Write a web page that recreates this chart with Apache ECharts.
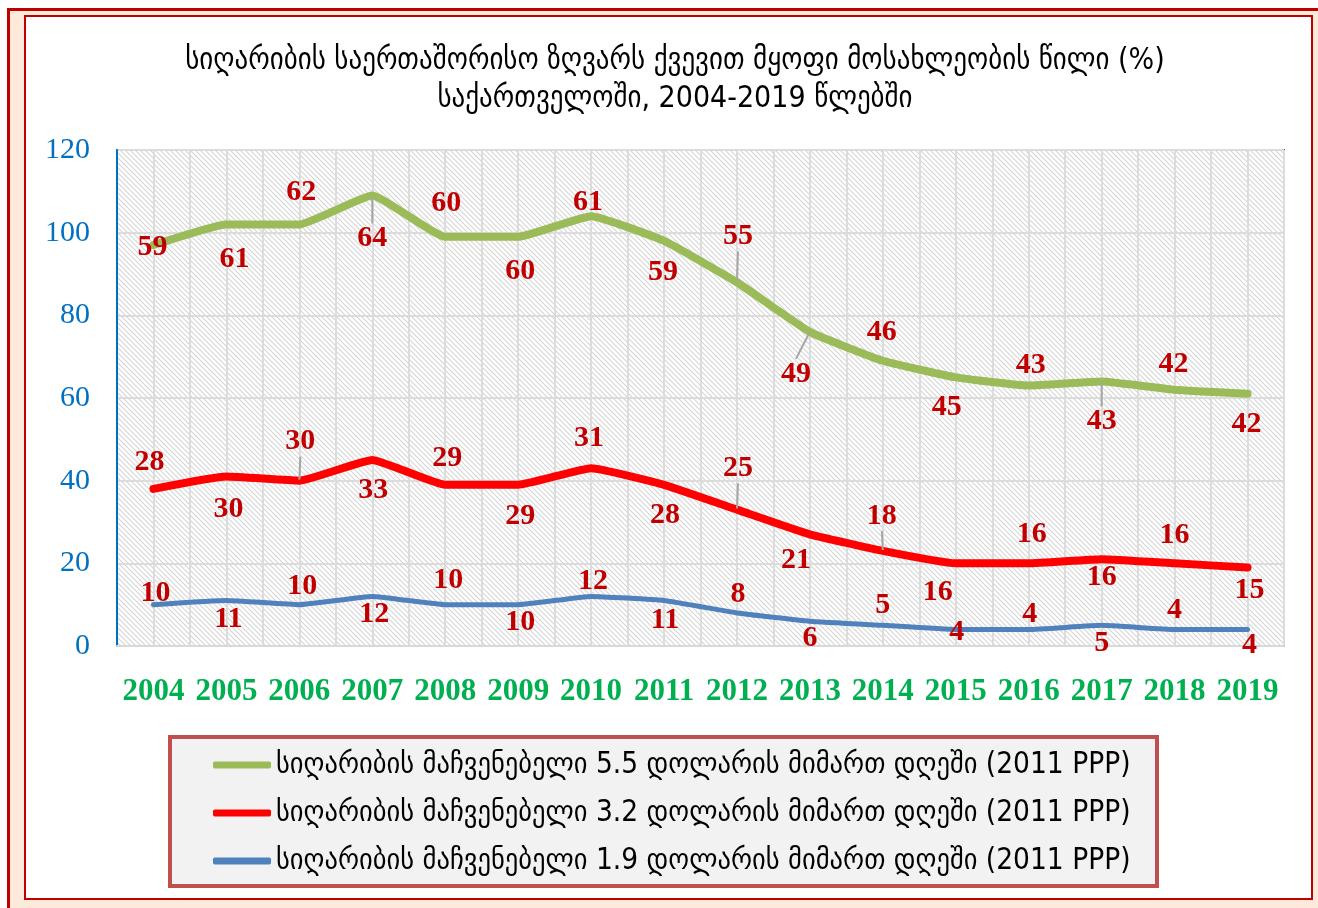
<!DOCTYPE html>
<html>
<head>
<meta charset="utf-8">
<script src="https://cdn.jsdelivr.net/npm/echarts@6/dist/echarts.min.js"></script>
<style>
  html, body { margin: 0; padding: 0; background: #ffffff; width: 1318px; height: 908px; overflow: hidden; }
  #outer { position: absolute; left: 7px; top: 8px; width: 1400px; height: 1000px; border: 3px solid #C00000; background: #FDEADA; box-sizing: border-box; }
  #inner { position: absolute; left: 24px; top: 15px; width: 1289px; height: 885px; border: 2px solid #C00000; background: #ffffff; box-sizing: border-box; }
  #chart { position: absolute; left: 0; top: 0; width: 1318px; height: 908px; }
</style>
</head>
<body>
<div id="outer"></div>
<div id="inner"></div>
<div id="chart"></div>
<script>
// ---- data ----
const years = ['2004','2005','2006','2007','2008','2009','2010','2011','2012','2013','2014','2015','2016','2017','2018','2019'];
const poverty55 = [59, 61, 62, 64, 60, 60, 61, 59, 55, 49, 46, 45, 43, 43, 42, 42];
const poverty32 = [28, 30, 30, 33, 29, 29, 31, 28, 25, 21, 18, 16, 16, 16, 16, 15];
const poverty19 = [10, 11, 10, 12, 10, 10, 12, 11, 8, 6, 5, 4, 4, 5, 4, 4];
const yTicks = { min: 0, max: 120, interval: 20 };
const seriesNames = [
  'სიღარიბის მაჩვენებელი 5.5 დოლარის მიმართ დღეში (2011 PPP)',
  'სიღარიბის მაჩვენებელი 3.2 დოლარის მიმართ დღეში (2011 PPP)',
  'სიღარიბის მაჩვენებელი 1.9 დოლარის მიმართ დღეში (2011 PPP)'
];
const titleText = 'სიღარიბის საერთაშორისო ზღვარს ქვევით მყოფი მოსახლეობის წილი (%)\nსაქართველოში, 2004-2019 წლებში';

// ---- label placement (presentation only) ----
const off55 = [[-1,2],[8,35],[2,-32],[0,43],[1,-34],[2,34],[-3,-14],[-1,31],[1,-46],[-14,42],[-1,-29],[-9,30],[2,-20],[0,40],[-1,-25],[-1,30]];
const off32 = [[-4,-27],[2,33],[1,-39],[1,30],[2,-27],[2,31],[-2,-30],[1,30],[1,-41],[-14,26],[-1,-35],[-18,29],[3,-29],[0,18],[0,-28],[2,23]];
const off19 = [[2,-11],[2,19],[3,-18],[2,18],[3,-24],[2,18],[2,-15],[1,20],[1,-19],[0,17],[0,-20],[1,3],[1,-15],[0,18],[0,-19],[2,16]];
const leaders55 = [3, 8, 9, 13];
const leaders32 = [2, 8, 10];
const leaders19 = [];
// series order: 0 = 1.9, 1 = 3.2, 2 = 5.5
const offsBySeries = [off19, off32, off55];

const geoFont = '"DejaVu Sans Condensed", "DejaVu Sans", sans-serif';
const numFont = '"Liberation Serif", "DejaVu Serif", serif';

// hatch pattern
function hatch() {
  const s = 5;
  const c = document.createElement('canvas');
  c.width = s; c.height = s;
  const g = c.getContext('2d');
  g.fillStyle = '#ffffff'; g.fillRect(0, 0, s, s);
  g.strokeStyle = '#d6d6d6'; g.lineWidth = 1.2;
  g.beginPath();
  g.moveTo(-1, -1); g.lineTo(s + 1, s + 1);
  g.moveTo(-2, s - 2); g.lineTo(2, s + 2);
  g.moveTo(s - 2, -2); g.lineTo(s + 2, 2);
  g.stroke();
  return c;
}

function mk(values, leaders) {
  return values.map((v, i) => leaders.indexOf(i) >= 0
    ? { value: v, labelLine: { show: true, lineStyle: { color: '#A6A6A6', width: 2 } } }
    : { value: v });
}

const labelBase = {
  show: true,
  position: 'inside',
  color: '#C00000',
  fontFamily: numFont,
  fontSize: 30,
  fontWeight: 'bold',
  formatter: '{c}'
};

function layoutFn(p) {
  const o = offsBySeries[p.seriesIndex][p.dataIndex];
  return { dx: o[0], dy: o[1] };
}

const chart = echarts.init(document.getElementById('chart'), null, { renderer: 'canvas' });
chart.setOption({
  animation: false,
  title: {
    text: titleText,
    left: 670, top: 37,
    textAlign: 'center',
    textStyle: { fontFamily: geoFont, fontSize: 30, fontWeight: 'normal', color: '#000000', lineHeight: 38 }
  },
  graphic: [{
    type: 'rect', z: 0,
    shape: { x: 170, y: 737, width: 987, height: 149 },
    style: { fill: '#F2F2F2', stroke: '#C0504D', lineWidth: 4 }
  }],
  legend: {
    orient: 'vertical',
    left: 208, top: 745,
    z: 10,
    itemWidth: 58, itemHeight: 7,
    itemGap: 18,
    icon: 'roundRect',
    data: [seriesNames[0], seriesNames[1], seriesNames[2]],
    textStyle: { fontFamily: geoFont, fontSize: 29.5, color: '#000000', lineHeight: 30 }
  },
  grid: {
    left: 117, top: 150, right: 34, bottom: 262,
    show: true,
    backgroundColor: { image: hatch(), repeat: 'repeat' },
    borderColor: '#0070C0', borderWidth: 2
  },
  xAxis: [{
    type: 'category',
    data: years,
    boundaryGap: true,
    axisLine: { show: true, lineStyle: { color: '#D9D9D9', width: 2 } },
    axisTick: { show: false },
    splitLine: { show: false },
    axisLabel: { color: '#00B050', fontFamily: numFont, fontSize: 31, fontWeight: 'bold', margin: 30, interval: 0 }
  }, {
    type: 'value',
    min: 0, max: 32, interval: 1,
    show: true,
    axisLine: { show: false }, axisTick: { show: false }, axisLabel: { show: false },
    splitLine: { show: true, lineStyle: { color: '#DCDCDC', width: 2 } }
  }],
  yAxis: {
    type: 'value',
    min: yTicks.min, max: yTicks.max, interval: yTicks.interval,
    axisLine: { show: true, lineStyle: { color: '#0070C0', width: 2 } },
    axisTick: { show: false },
    splitLine: { show: true, lineStyle: { color: '#DCDCDC', width: 2 } },
    axisLabel: { color: '#0070C0', fontFamily: numFont, fontSize: 30, margin: 27 }
  },
  series: [{
    name: seriesNames[2], type: 'line', stack: 'total', xAxisIndex: 0,
    data: mk(poverty19, leaders19),
    smooth: 0.12, symbol: 'circle', symbolSize: 2,
    lineStyle: { color: '#4F81BD', width: 5, cap: 'round' },
    itemStyle: { color: '#4F81BD' },
    label: labelBase, labelLayout: layoutFn, z: 3
  }, {
    name: seriesNames[1], type: 'line', stack: 'total', xAxisIndex: 0,
    data: mk(poverty32, leaders32),
    smooth: 0.12, symbol: 'circle', symbolSize: 2,
    lineStyle: { color: '#FF0000', width: 8, cap: 'round' },
    itemStyle: { color: '#FF0000' },
    label: labelBase, labelLayout: layoutFn, z: 4
  }, {
    name: seriesNames[0], type: 'line', stack: 'total', xAxisIndex: 0,
    data: mk(poverty55, leaders55),
    smooth: 0.12, symbol: 'circle', symbolSize: 2,
    lineStyle: { color: '#9BBB59', width: 8, cap: 'round' },
    itemStyle: { color: '#9BBB59' },
    label: labelBase, labelLayout: layoutFn, z: 5
  }]
});
</script>
</body>
</html>
